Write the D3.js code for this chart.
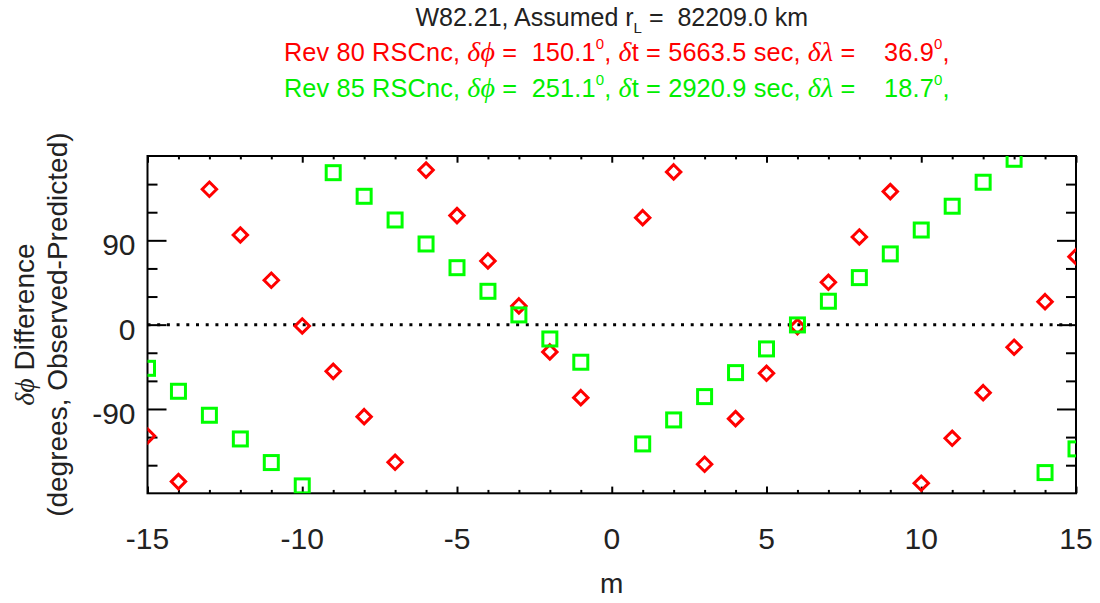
<!DOCTYPE html>
<html><head><meta charset="utf-8">
<script src="https://cdn.jsdelivr.net/npm/d3@7"></script>
<style>
html,body{margin:0;padding:0;background:#fff;}
svg text{font-family:"Liberation Sans",Arial,Helvetica,sans-serif;white-space:pre;}
.gr{font-family:"Liberation Serif","DejaVu Serif",serif;font-style:italic;font-size:28px;}
</style></head>
<body>
<svg id="chart" width="1100" height="603"></svg>
<script>
// ---- data ----
const mValues = [-15,-14,-13,-12,-11,-10,-9,-8,-7,-6,-5,-4,-3,-2,-1,1,2,3,4,5,6,7,8,9,10,11,12,13,14,15];
const rev80 = [-118.8,-167.5,144.5,95.7,47.4,-1.4,-49.8,-98.2,-146.9,165.0,116.4,68.0,20.0,-29.1,-77.9,
               114.2,163.0,-149.0,-100.3,-51.9,-2.1,45.2,93.6,142.0,-169.3,-121.3,-72.6,-24.1,24.5,72.6];
const rev85 = [-46.6,-71.1,-96.7,-122.0,-147.2,-172.1,162.2,137.0,111.7,86.1,60.8,35.6,10.4,-15.3,-40.1,
               -127.3,-101.7,-76.8,-51.2,-25.9,-0.3,25.0,50.2,75.5,101.0,126.4,152.0,176.5,-157.9,-132.6];
const xTickValues = [-15,-10,-5,0,5,10,15];
const yTickValues = [-90,0,90];
const titleLine1 = ["W82.21, Assumed r","L"," =  82209.0 km"];
const rev80Label = {name:"Rev 80 RSCnc, ", dphi:"150.1", dt:"5663.5", dlam:"36.9"};
const rev85Label = {name:"Rev 85 RSCnc, ", dphi:"251.1", dt:"2920.9", dlam:"18.7"};

// ---- layout ----
const L = 147.5, R = 1076, T = 156, B = 493.3;
const svg = d3.select("#chart");
const x = d3.scaleLinear().domain([-15,15]).range([L,R]);
const y = d3.scaleLinear().domain([-180,180]).range([B,T]);
const ink = "#222";
const fmt = v => String(v);

// clip
svg.append("defs").append("clipPath").attr("id","clip")
  .append("rect").attr("x",L).attr("y",T).attr("width",R-L).attr("height",B-T);

// zero dotted line
svg.append("line").attr("x1",L).attr("x2",R).attr("y1",y(0)).attr("y2",y(0))
  .attr("stroke","#000").attr("stroke-width",3).attr("stroke-dasharray","3 6.7");

// axes (ticks on all four sides)
function styleAxis(g){
  g.select(".domain").remove();
  g.selectAll(".tick line").attr("stroke","#000").attr("stroke-width",2);
  g.selectAll(".tick text").remove();
}
const xMinor = d3.range(-15,16,1).filter(v=>v%5!==0);
const yMinor = d3.range(-180,181,30).filter(v=>v%90!==0);
// bottom
svg.append("g").attr("transform",`translate(0,${B})`)
  .call(d3.axisBottom(x).tickValues(xTickValues).tickSize(-6.7))
  .call(styleAxis);
svg.append("g").attr("transform",`translate(0,${B})`)
  .call(d3.axisBottom(x).tickValues(xMinor).tickSize(-3.4))
  .call(styleAxis);
// top
svg.append("g").attr("transform",`translate(0,${T})`)
  .call(d3.axisTop(x).tickValues(xTickValues).tickSize(-6.7))
  .call(styleAxis);
svg.append("g").attr("transform",`translate(0,${T})`)
  .call(d3.axisTop(x).tickValues(xMinor).tickSize(-3.4))
  .call(styleAxis);
// left
svg.append("g").attr("transform",`translate(${L},0)`)
  .call(d3.axisLeft(y).tickValues(yTickValues).tickSize(-19))
  .call(styleAxis);
svg.append("g").attr("transform",`translate(${L},0)`)
  .call(d3.axisLeft(y).tickValues(yMinor).tickSize(-10))
  .call(styleAxis);
// right
svg.append("g").attr("transform",`translate(${R},0)`)
  .call(d3.axisRight(y).tickValues(yTickValues).tickSize(-19))
  .call(styleAxis);
svg.append("g").attr("transform",`translate(${R},0)`)
  .call(d3.axisRight(y).tickValues(yMinor).tickSize(-10))
  .call(styleAxis);

// tick labels
svg.append("g").selectAll("text").data(xTickValues).join("text")
  .attr("x",d=>x(d)).attr("y",B+56).attr("text-anchor","middle")
  .attr("font-size",30).attr("fill",ink).text(fmt);
svg.append("g").selectAll("text").data(yTickValues).join("text")
  .attr("x",L-12).attr("y",d=>y(d)+15).attr("text-anchor","end")
  .attr("font-size",30).attr("fill",ink).text(fmt);

// frame
svg.append("rect").attr("x",L).attr("y",T).attr("width",R-L).attr("height",B-T)
  .attr("fill","none").attr("stroke","#000").attr("stroke-width",2);

// markers
const pts80 = mValues.map((m,i)=>({m, v:rev80[i]}));
const pts85 = mValues.map((m,i)=>({m, v:rev85[i]}));
const plot = svg.append("g").attr("clip-path","url(#clip)");
const d = 7.2;
plot.append("g").selectAll("path").data(pts80).join("path")
  .attr("d",p=>{const cx=x(p.m), cy=y(p.v);return `M${cx},${cy-d}L${cx+d},${cy}L${cx},${cy+d}L${cx-d},${cy}Z`;})
  .attr("fill","none").attr("stroke","#ff0000").attr("stroke-width",3);
const s = 7;
plot.append("g").selectAll("rect").data(pts85).join("rect")
  .attr("x",p=>x(p.m)-s).attr("y",p=>y(p.v)-s).attr("width",2*s).attr("height",2*s)
  .attr("fill","none").attr("stroke","#00ff00").attr("stroke-width",3);

// titles
const cx0 = (L+R)/2;
const t1 = svg.append("text").attr("x",cx0).attr("y",26).attr("text-anchor","middle")
  .attr("font-size",25).attr("fill",ink);
t1.append("tspan").text(titleLine1[0]);
t1.append("tspan").attr("font-size",15).attr("dy",7).text(titleLine1[1]);
t1.append("tspan").attr("dy",-7).text(titleLine1[2]);

function revLine(lbl, color, yy){
  const t = svg.append("text").attr("x",cx0+5).attr("y",yy).attr("text-anchor","middle")
    .attr("font-size",25.3).attr("letter-spacing",0.15).attr("fill",color);
  t.append("tspan").text(lbl.name);
  t.append("tspan").attr("class","gr").text("δϕ");
  t.append("tspan").text(" =  "+lbl.dphi);
  t.append("tspan").attr("font-size",15).attr("dy",-12).text("0");
  t.append("tspan").attr("dy",12).text(", ");
  t.append("tspan").attr("class","gr").text("δ");
  t.append("tspan").text("t = "+lbl.dt+" sec, ");
  t.append("tspan").attr("class","gr").text("δλ");
  t.append("tspan").text(" =    "+lbl.dlam);
  t.append("tspan").attr("font-size",15).attr("dy",-12).text("0");
  t.append("tspan").attr("dy",12).text(",");
}
revLine(rev80Label,"#ff0000",61);
revLine(rev85Label,"#00ee00",97);

// axis titles
svg.append("text").attr("x",cx0).attr("y",593).attr("text-anchor","middle")
  .attr("font-size",28).attr("fill",ink).text("m");
const yc = (T+B)/2;
const yt1 = svg.append("text").attr("transform",`translate(34,${yc}) rotate(-90)`)
  .attr("text-anchor","middle").attr("font-size",28).attr("fill",ink);
yt1.append("tspan").attr("class","gr").text("δϕ");
yt1.append("tspan").text(" Difference");
svg.append("text").attr("transform",`translate(67,${yc}) rotate(-90)`)
  .attr("text-anchor","middle").attr("font-size",28).attr("fill",ink)
  .text("(degrees, Observed-Predicted)");
</script>
</body></html>
